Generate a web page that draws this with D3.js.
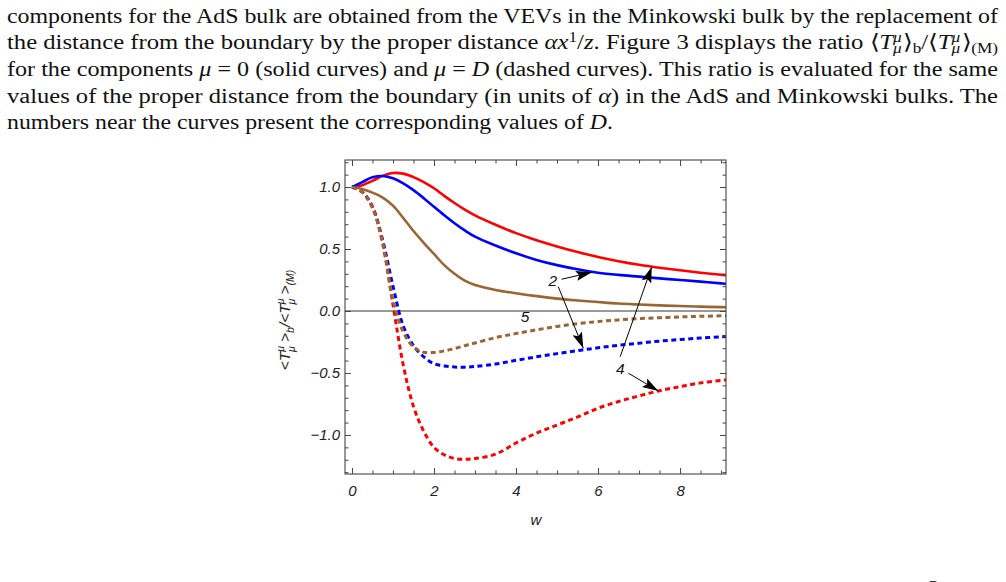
<!DOCTYPE html>
<html><head><meta charset="utf-8">
<script src="https://cdn.jsdelivr.net/npm/d3@7"></script>
<style>
body{margin:0;background:#fff;width:1006px;height:582px;overflow:hidden;position:relative}
#para{position:absolute;left:7px;top:0;width:991px;font-family:"Liberation Serif","Times New Roman",serif;font-size:20.5px;color:#111}
.ln{position:absolute;left:0;height:26.6px;line-height:26.6px;white-space:nowrap;transform-origin:0 0}
.sp{font-size:0.7em;position:relative;top:-0.5em;line-height:0}
.sb{font-size:0.7em;position:relative;top:0.3em;line-height:0}
.st{margin-left:-0.5em;margin-right:0.08em}
svg{position:absolute;left:0;top:0}
</style></head>
<body>
<svg id="chart" width="1006" height="582"></svg>
<div id="para"></div>
<script>
// ---------- paragraph text ----------
const paraLines = [
  'components for the AdS bulk are obtained from the VEVs in the Minkowski bulk by the replacement of',
  'the distance from the boundary by the proper distance <i>αx</i><span class="sp">1</span>/<i>z</i>. Figure 3 displays the ratio ⟨<i>T</i><span class="sp"><i>μ</i></span><span class="sb st"><i>μ</i></span>⟩<span class="sb">b</span>/⟨<i>T</i><span class="sp"><i>μ</i></span><span class="sb st"><i>μ</i></span>⟩<span class="sb">(M)</span>',
  'for the components <i>μ</i> = 0 (solid curves) and <i>μ</i> = <i>D</i> (dashed curves). This ratio is evaluated for the same',
  'values of the proper distance from the boundary (in units of <i>α</i>) in the AdS and Minkowski bulks. The',
  'numbers near the curves present the corresponding values of <i>D</i>.'
];
const paraTops = [2.5, 29.1, 55.8, 82.5, 108.9];
const paraWidths = [991, 991, 991, 991, 606];

// ---------- chart data ----------
const wGrid = [0,0.25,0.5,0.75,1,1.25,1.5,1.75,2,2.25,2.5,2.75,3,3.5,4,4.5,5,5.5,6,6.5,7,7.5,8,8.5,9,9.12];
// solid curves (mu = 0)
const solidD4 = [1.0,1.015,1.05,1.09,1.113,1.108,1.08,1.04,0.99,0.929,0.871,0.818,0.772,0.696,0.628,0.571,0.521,0.476,0.436,0.402,0.373,0.349,0.328,0.309,0.292,0.288];
const solidD2 = [1.0,1.04,1.078,1.089,1.07,1.03,0.975,0.91,0.84,0.772,0.708,0.65,0.6,0.528,0.465,0.412,0.37,0.336,0.309,0.291,0.277,0.263,0.25,0.237,0.223,0.22];
const solidD5 = [1.0,0.985,0.955,0.915,0.85,0.75,0.645,0.55,0.46,0.37,0.3,0.245,0.21,0.17,0.143,0.12,0.1,0.085,0.072,0.06,0.052,0.045,0.04,0.035,0.031,0.03];
// dashed curves (mu = D)
const dashD4 = [1.0,0.96,0.84,0.54,0.05,-0.435,-0.77,-0.97,-1.1,-1.16,-1.19,-1.197,-1.19,-1.155,-1.065,-0.985,-0.92,-0.855,-0.785,-0.73,-0.685,-0.643,-0.61,-0.58,-0.56,-0.556];
const dashD2 = [1.0,0.96,0.84,0.57,0.2,-0.12,-0.28,-0.37,-0.425,-0.443,-0.452,-0.453,-0.448,-0.428,-0.398,-0.37,-0.344,-0.32,-0.297,-0.277,-0.26,-0.243,-0.23,-0.218,-0.208,-0.206];
const dashD5 = [1.0,0.96,0.83,0.55,0.09,-0.17,-0.29,-0.333,-0.335,-0.322,-0.303,-0.28,-0.258,-0.215,-0.182,-0.152,-0.125,-0.102,-0.085,-0.072,-0.062,-0.054,-0.048,-0.043,-0.039,-0.038];

const xTicks = [0,2,4,6,8];
const yTicks = [-1,-0.5,0,0.5,1];
const xMinor = [0.5,1,1.5,2.5,3,3.5,4.5,5,5.5,6.5,7,7.5,8.5,9];
const yMinor = [-1.3,-1.2,-1.1,-0.9,-0.8,-0.7,-0.6,-0.4,-0.3,-0.2,-0.1,0.1,0.2,0.3,0.4,0.6,0.7,0.8,0.9,1.1,1.2];
const xLabel = 'w';

// annotations: label text, label position, arrows [from, to] in data units
const annoLabels = [
  {t:'2', w:4.90, v:0.245},
  {t:'5', w:4.22, v:-0.04},
  {t:'4', w:6.54, v:-0.46}
];
const annoArrows = [
  {from:[5.11,0.256], to:[5.85,0.312]},
  {from:[5.03,0.196], to:[5.64,-0.3]},
  {from:[6.54,-0.369], to:[7.31,0.357]},
  {from:[6.74,-0.502], to:[7.47,-0.645]}
];

// ---------- paragraph ----------
const lns = d3.select('#para').selectAll('div').data(paraLines).join('div')
  .attr('class','ln')
  .style('top',(d,i)=>paraTops[i]+'px')
  .html(d=>d);
lns.each(function(d,i){
  const w = this.getBoundingClientRect().width;
  d3.select(this).style('transform',`scaleX(${paraWidths[i]/w})`);
});

// ---------- chart ----------
const svg = d3.select('#chart');
const L=345, R=726, T=160, B=474;
const x = d3.scaleLinear().domain([-0.17, 9.12]).range([L, R]);
const y = d3.scaleLinear().domain([-1.315, 1.218]).range([B, T]);
const fontSans = '"Liberation Sans", Arial, sans-serif';

const defs = svg.append('defs');
defs.append('clipPath').attr('id','clip')
  .append('rect').attr('x',L).attr('y',T).attr('width',R-L).attr('height',B-T);
defs.append('marker').attr('id','ah')
  .attr('markerUnits','userSpaceOnUse').attr('markerWidth',18).attr('markerHeight',12)
  .attr('viewBox','0 -6 18 12').attr('refX',16).attr('refY',0).attr('orient','auto')
  .append('path').attr('d','M0,-5L16,0L0,5L3,0Z').attr('fill','#000');

// zero line
svg.append('line').attr('x1',L).attr('x2',R).attr('y1',y(0)).attr('y2',y(0))
  .attr('stroke','#777').attr('stroke-width',1.3);

const line = d3.line().x((d,i)=>x(wGrid[i])).y(d=>y(d)).curve(d3.curveCatmullRom.alpha(0.5));
const g = svg.append('g').attr('clip-path','url(#clip)');
const series = [
  {v:dashD2, c:'#0000ff', dash:true},
  {v:dashD4, c:'#ff0000', dash:true},
  {v:dashD5, c:'#996633', dash:true},
  {v:solidD4, c:'#ff0000', dash:false},
  {v:solidD2, c:'#0000ff', dash:false},
  {v:solidD5, c:'#996633', dash:false}
];
g.selectAll('path.s').data(series).join('path').attr('class','s')
  .attr('d',d=>line(d.v)).attr('fill','none').attr('stroke',d=>d.c)
  .attr('stroke-width',d=>d.dash?3:2.6)
  .attr('stroke-dasharray',d=>d.dash?'5,3.5':null);

// axes (ticks inward on all four sides)
function styleAxis(sel){
  sel.select('.domain').remove();
  sel.selectAll('.tick line').attr('stroke','#444');
  sel.selectAll('text').attr('font-family',fontSans).attr('font-style','italic')
    .attr('font-size',15).attr('fill','#222');
}
const fmt = d3.format('.1f');
svg.append('g').attr('transform',`translate(0,${B})`)
  .call(d3.axisBottom(x).tickValues(xTicks).tickSize(-6).tickPadding(11).tickFormat(d3.format('d'))).call(styleAxis);
svg.append('g').attr('transform',`translate(0,${B})`)
  .call(d3.axisBottom(x).tickValues(xMinor).tickSize(-3.5).tickFormat('')).call(styleAxis);
svg.append('g').attr('transform',`translate(0,${T})`)
  .call(d3.axisTop(x).tickValues(xTicks).tickSize(-6).tickFormat('')).call(styleAxis);
svg.append('g').attr('transform',`translate(0,${T})`)
  .call(d3.axisTop(x).tickValues(xMinor).tickSize(-3.5).tickFormat('')).call(styleAxis);
svg.append('g').attr('transform',`translate(${L},0)`)
  .call(d3.axisLeft(y).tickValues(yTicks).tickSize(-6).tickPadding(5).tickFormat(fmt)).call(styleAxis);
svg.append('g').attr('transform',`translate(${L},0)`)
  .call(d3.axisLeft(y).tickValues(yMinor).tickSize(-3.5).tickFormat('')).call(styleAxis);
svg.append('g').attr('transform',`translate(${R},0)`)
  .call(d3.axisRight(y).tickValues(yTicks).tickSize(-6).tickFormat('')).call(styleAxis);
svg.append('g').attr('transform',`translate(${R},0)`)
  .call(d3.axisRight(y).tickValues(yMinor).tickSize(-3.5).tickFormat('')).call(styleAxis);

// frame
svg.append('rect').attr('x',L).attr('y',T).attr('width',R-L).attr('height',B-T)
  .attr('fill','none').attr('stroke','#444').attr('stroke-width',1.1);

// axis titles
svg.append('text').attr('x',(L+R)/2+0.5).attr('y',525).attr('text-anchor','middle')
  .attr('font-family',fontSans).attr('font-style','italic').attr('font-size',15).attr('fill','#222').text(xLabel);

const yl = svg.append('text').attr('transform','translate(290,320) rotate(-90)')
  .attr('text-anchor','middle').attr('font-family',fontSans).attr('font-style','italic')
  .attr('font-size',15.5).attr('fill','#222');
const parts = [
  {t:'<T',s:15.5,dy:0},{t:'μ',s:10.5,dy:-6},{t:'μ',s:10.5,dy:10.5,dx:-6},{t:' >',s:15.5,dy:-4.5},
  {t:'b',s:10.5,dy:3.5},{t:'/<',s:15.5,dy:-3.5},{t:'T',s:15.5,dy:0},{t:'μ',s:10.5,dy:-6},{t:'μ',s:10.5,dy:10.5,dx:-6},
  {t:' >',s:15.5,dy:-4.5},{t:'(M)',s:10.5,dy:3.5}
];
yl.selectAll('tspan').data(parts).join('tspan').attr('font-size',d=>d.s)
  .attr('dy',d=>d.dy).attr('dx',d=>d.dx||0).text(d=>d.t);

// annotations
svg.selectAll('line.arr').data(annoArrows).join('line').attr('class','arr')
  .attr('x1',d=>x(d.from[0])).attr('y1',d=>y(d.from[1]))
  .attr('x2',d=>x(d.to[0])).attr('y2',d=>y(d.to[1]))
  .attr('stroke','#000').attr('stroke-width',1).attr('marker-end','url(#ah)');
svg.selectAll('text.al').data(annoLabels).join('text').attr('class','al')
  .attr('x',d=>x(d.w)).attr('y',d=>y(d.v)).attr('dy','0.36em').attr('text-anchor','middle')
  .attr('font-family',fontSans).attr('font-style','italic').attr('font-size',15.5).attr('fill','#111')
  .text(d=>d.t);

// start of the next line of text, cut off at the bottom edge as in the source
svg.append('text').attr('x',928).attr('y',591).attr('font-family','"Liberation Serif",serif')
  .attr('font-style','italic').attr('font-size',14).attr('fill','#111').text('D');
</script>
</body></html>
